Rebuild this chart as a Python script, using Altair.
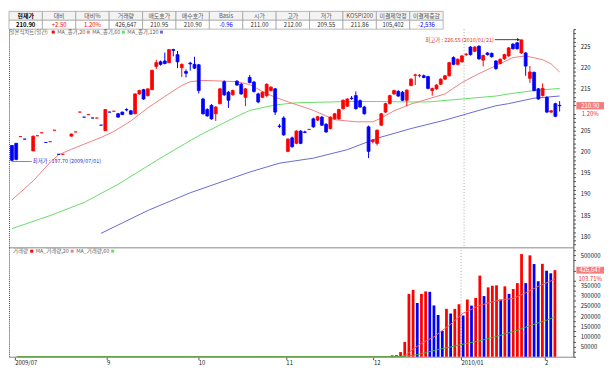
import altair as alt
import pandas as pd

# ---------------- data ----------------
headers = ["현재가", "대비", "대비%", "거래량", "매도호가", "매수호가", "Basis", "시가", "고가",
           "저가", "KOSPI200", "미결제약정", "미결제증감"]
values = ["210.90", "+2.50", "1.20%", "426,647", "210.95", "210.90", "-0.96", "211.00", "212.00",
          "209.55", "211.86", "105,402", "-2,536"]

opens = [201.5, 202.0, 203.6, 203.0, None, 200.2, 203.8, 204.5, 202.2, 202.4,
         205.1, 199.4, 199.4, None, 203.7, 204.7, 209.4, 208.2, 208.8, 208.0,
         208.0, 206.3, 205.0, 209.4, 209.6, 209.0, 209.4, 210.0, 209.7, 209.0,
         213.7, 214.7, 213.3, 214.7, 220.2, 221.3, 221.5, 221.1, 224.2, 223.0,
         219.9, 219.0, 221.0, 220.7, 220.6, 212.5, 210.0, 211.0, 209.0, 211.4,
         216.6, 214.1, 213.5, 216.7, 216.0, 212.9, 217.6, 216.5, 213.7, 212.9,
         213.3, 214.5, 214.9, 206.1, 208.0, 200.1, 203.3, 202.0, 204.9, 204.7,
         205.3, 207.8, 207.5, 208.2, 206.5, 205.5, 207.8, 207.8, 210.2, 210.8,
         212.7, 213.3, 212.1, 210.6, 205.9, 202.4, 202.0, 206.3, 209.4, 211.4,
         213.7, 214.3, 214.1, 212.2, 215.7, 218.1, 218.0, 218.0, 217.8, 214.5,
         214.9, 216.0, 217.2, 218.0, 222.3, 220.7, 221.3, 223.0, 224.8, 223.8,
         225.0, 221.7, 223.4, 223.3, 221.5, 220.9, 222.0, 222.7, 225.5, 225.8,
         223.4, 223.4, 217.4, 218.8, 214.9, 213.3, 212.9, 209.4, 211.4, 211.0]
highs = [201.6, 202.1, 203.6, 203.0, None, 203.8, 203.8, 204.5, 202.2, 202.4,
         205.1, 199.4, 199.4, None, 204.3, 204.7, 209.4, 208.2, 208.8, 208.0,
         208.0, 206.3, 210.1, 209.4, 209.6, 209.2, 209.5, 210.3, 209.9, 213.8,
         214.7, 214.9, 215.0, 219.4, 221.8, 221.6, 223.5, 224.3, 224.4, 223.9,
         220.9, 219.5, 221.3, 222.5, 220.8, 212.8, 210.3, 211.3, 210.8, 215.1,
         216.9, 214.4, 214.7, 217.0, 216.3, 215.1, 218.2, 216.8, 214.0, 214.3,
         216.2, 215.5, 215.1, 206.6, 208.4, 203.2, 203.6, 205.1, 205.1, 205.0,
         205.3, 208.1, 208.5, 208.5, 206.8, 208.4, 209.2, 210.2, 212.4, 212.7,
         213.2, 214.3, 212.4, 210.9, 206.2, 203.0, 205.3, 209.2, 211.6, 213.5,
         214.7, 214.6, 214.4, 214.8, 217.4, 218.5, 218.4, 218.3, 218.0, 215.2,
         216.0, 217.4, 218.2, 221.3, 222.6, 222.1, 222.9, 223.4, 225.0, 225.0,
         225.2, 223.0, 223.6, 223.5, 221.7, 222.1, 223.2, 224.8, 225.7, 226.0,
         226.55, 223.6, 220.3, 219.0, 215.1, 216.2, 213.1, 209.9, 211.6, 212.0]
lows = [197.7, 198.0, 203.6, 203.0, None, 200.2, 203.8, 204.5, 202.2, 202.4,
        205.1, 199.4, 199.4, None, 203.6, 204.7, 209.4, 208.2, 208.8, 208.0,
        208.0, 206.3, 204.9, 209.4, 209.6, 208.1, 208.7, 209.6, 208.8, 208.9,
        213.5, 212.3, 213.1, 214.6, 219.6, 220.4, 220.7, 221.0, 222.6, 219.8,
        217.7, 217.6, 219.2, 219.6, 213.8, 208.8, 208.3, 207.6, 207.3, 211.2,
        213.2, 210.4, 213.3, 215.6, 213.5, 210.8, 216.2, 214.0, 211.5, 212.7,
        213.0, 214.3, 208.7, 205.6, 203.8, 199.9, 201.0, 201.8, 201.8, 204.4,
        205.3, 205.7, 207.3, 206.1, 204.5, 205.3, 207.6, 207.6, 210.0, 210.6,
        212.3, 210.0, 210.4, 208.8, 198.5, 202.0, 201.5, 206.1, 209.2, 211.2,
        213.5, 213.0, 212.0, 210.8, 215.5, 215.8, 217.6, 217.4, 214.8, 213.3,
        214.7, 215.8, 217.0, 217.8, 220.5, 220.5, 221.1, 222.7, 222.8, 223.6,
        221.8, 220.2, 222.8, 222.3, 219.4, 220.7, 221.8, 222.5, 224.2, 224.2,
        223.2, 218.0, 216.3, 214.3, 212.3, 213.1, 209.2, 209.2, 208.2, 209.55]
closes = [198.0, 198.2, 203.6, 203.0, None, 203.7, 203.8, 204.5, 202.2, 202.4,
          205.1, 199.4, 199.4, None, 204.2, 204.7, 209.4, 208.2, 208.8, 208.0,
          208.0, 206.3, 210.0, 209.4, 209.6, 208.2, 208.8, 209.9, 208.9, 213.7,
          214.5, 212.5, 214.9, 219.3, 221.1, 220.7, 220.9, 224.2, 224.0, 221.3,
          220.7, 218.6, 220.8, 219.8, 214.5, 209.0, 208.5, 207.8, 210.6, 214.9,
          213.5, 212.2, 214.5, 215.8, 213.7, 214.9, 216.4, 214.3, 211.8, 214.1,
          216.0, 215.3, 209.4, 206.0, 204.0, 203.0, 201.2, 204.9, 202.0, 204.6,
          205.3, 205.9, 208.3, 206.3, 204.7, 208.2, 209.0, 210.0, 212.2, 212.5,
          212.6, 210.2, 210.6, 209.0, 200.1, 202.8, 205.1, 209.0, 211.4, 213.3,
          214.5, 213.2, 212.2, 214.6, 217.2, 218.2, 218.1, 217.6, 215.0, 215.0,
          215.8, 217.2, 218.0, 221.1, 220.7, 221.9, 222.7, 223.1, 223.0, 224.8,
          222.0, 222.8, 223.0, 222.5, 219.7, 221.9, 223.0, 224.6, 224.4, 224.4,
          226.5, 220.3, 218.9, 214.5, 212.5, 215.0, 209.4, 209.7, 208.4, 210.9]

vol_start = 90
volumes = [7000, 7000, 23000, 73000, 310000, 330000, 265000, 310000, 322000, 320000,
           253000, 206000, 127000, 236000, 213000, 236000, 259000, 203000, 282000, 252000,
           290000, 400000, 299000, 342000, 350000, 352000, 282000, 347000, 310000, 334000,
           363000, 506000, 363000, 500000, 457000, 372000, 458000, 424000, 411383, 426647]

ma20_idx = [0, 5, 9, 11, 14, 21, 24, 28, 32, 36, 40, 42, 45, 48, 53, 56, 59, 62, 66, 71,
            76, 81, 85, 87, 90, 94, 98, 102, 106, 110, 114, 118, 121, 125, 127, 129]
ma20_val = [188.6, 193.1, 197.5, 199.3, 200.6, 203.4, 204.8, 207.3, 210.4, 213.1,
            215.7, 216.6, 216.9, 216.8, 216.6, 215.9, 214.3, 212.9, 211.5, 209.8,
            207.6, 207.1, 207.1, 208.0, 209.7, 211.3, 212.5, 213.7, 216.4, 218.5,
            220.4, 222.3, 222.7, 221.8, 220.8, 218.9]
ma60_idx = [0, 9, 17, 25, 30, 34, 38, 44, 52, 56, 62, 67, 79, 86, 94, 98, 106, 114, 117, 123, 129]
ma60_val = [181.8, 184.9, 188.0, 192.3, 195.4, 197.9, 200.3, 203.8, 207.9, 209.8, 211.1,
            211.6, 211.9, 211.9, 211.8, 211.8, 212.5, 213.2, 213.7, 214.5, 215.0]
ma120_idx = [21, 32, 42, 56, 63, 71, 79, 86, 94, 102, 110, 114, 117, 123, 129]
ma120_val = [180.7, 186.1, 190.3, 195.2, 197.3, 198.5, 200.5, 203.2, 205.5, 207.5,
             209.8, 210.9, 211.4, 212.7, 213.2]

vma20_idx = [0, 90, 92, 93, 94, 95, 97, 100, 104, 107, 111, 115, 119, 122, 125, 129]
vma20_val = [0, 400, 1500, 5000, 20000, 37000, 66000, 98000, 160000, 215000, 253000,
             276000, 288000, 315000, 347000, 382000]
vma60_idx = [0, 92, 96, 100, 104, 107, 111, 115, 119, 123, 127, 129]
vma60_val = [0, 0, 10000, 31000, 48000, 62000, 79000, 100000, 124000, 153000, 180000, 196000]

month_labels = ["2009/07", "9", "10", "11", "12", "2010/01", "2"]
month_first_idx = [0, 22, 44, 65, 86, 107, 127]

hi_date = "2010/01/21"
lo_date = "2009/07/01"

price_legend = ["일본식차트(일간)", "MA_종가,20", "MA_종가,60", "MA_종가,120"]
vol_legend = ["거래량", "MA_거래량,20", "MA_거래량,60"]

# ---------------- style ----------------
FONT = "Noto Sans CJK KR"
RED = "#ff0000"
BLUE = "#0000ff"
MA20_C = "#f08080"
MA60_C = "#66dd66"
MA120_C = "#6a6ad0"
BOX_C = "#f47c7c"
W = 572
TH = 18
PH = 221
VH = 111

XS = alt.Scale(domain=[-0.697, 132.25], nice=False, zero=False)
PY = alt.Scale(domain=[177.41, 229.04], nice=False, zero=False)
VY = alt.Scale(domain=[0, 540000], nice=False, zero=False)
DIR = alt.Scale(domain=["up", "down"], range=[RED, BLUE])

# ---------------- frames ----------------
rows = []
prev = None
for i, (o, h, l, c) in enumerate(zip(opens, highs, lows, closes)):
    if o is None:
        continue
    if c > o:
        d = "up"
    elif c < o:
        d = "down"
    else:
        d = "up" if (prev is None or c >= prev) else "down"
    rows.append(dict(idx=i, o=o, h=h, l=l, c=c, d=d))
    prev = c
candles = pd.DataFrame(rows)

vrows = []
pv = 0
for k, v in enumerate(volumes):
    vrows.append(dict(idx=vol_start + k, v=v, d="up" if v > pv else "down"))
    pv = v
vol_df = pd.DataFrame(vrows)


def line_df(ix, vals):
    return pd.DataFrame({"idx": ix, "v": vals})


year_idx = month_first_idx[5] - 0.5
year_df = pd.DataFrame({"idx": [year_idx]})

hi_i = max(range(len(highs)), key=lambda i: highs[i] if highs[i] is not None else -1)
lo_i = min(range(len(lows)), key=lambda i: lows[i] if lows[i] is not None else 1e9)
hi_df = pd.DataFrame({"idx": [hi_i], "p": [highs[hi_i]],
                      "lab": [f"최고가 : {highs[hi_i]:.2f} ({hi_date})"]})
lo_df = pd.DataFrame({"idx": [lo_i], "p": [lows[lo_i]],
                      "lab": [f"최저가 : {lows[lo_i]:.2f} ({lo_date})"]})

last_c, prev_c = closes[-1], closes[-2]
cur_df = pd.DataFrame({"p": [last_c], "lab": [f"{last_c:.2f}"],
                       "pct": [f"{(last_c - prev_c) / prev_c * 100:.2f}%"]})
vcur_df = pd.DataFrame({"v": [volumes[-1]], "lab": [f"{volumes[-1]:,}"],
                        "pct": [f"{volumes[-1] / volumes[-2] * 100:.2f}%"]})

dummy = pd.DataFrame({"k": [0]})


def est_w(s, fs):
    w = 0.0
    for ch in s:
        if ord(ch) > 0x2E80:
            w += 1.0
        elif ch in ",.():":
            w += 0.3
        elif ch == "_":
            w += 0.5
        elif ch.isupper():
            w += 0.68
        else:
            w += 0.56
    return w * fs


def legend_layers(labels, colors, x0, y, fs):
    out = []
    x = x0
    for lab, col in zip(labels, colors):
        out.append(alt.Chart(dummy).mark_text(align="left", baseline="middle", fontSize=fs,
                                              color="#666666", font=FONT)
                   .encode(x=alt.value(x), y=alt.value(y), text=alt.value(lab)))
        x += est_w(lab, fs) + 2.5
        out.append(alt.Chart(dummy).mark_square(size=9, color=col, opacity=1, filled=True)
                   .encode(x=alt.value(x), y=alt.value(y)))
        x += 4
    return out


# ---------------- table ----------------
def val_kind(h, s):
    if h == "현재가":
        return "bold"
    if s.startswith("-"):
        return "blue"
    if h in ("대비", "대비%"):
        return "red"
    return "norm"


tbl = pd.DataFrame({
    "col": headers + headers,
    "row": ["h"] * len(headers) + ["v"] * len(values),
    "text": headers + values,
    "kind": ["bold" if h == "현재가" else "head" for h in headers]
            + [val_kind(h, s) for h, s in zip(headers, values)],
})
TX = alt.X("col:N", sort=headers, scale=alt.Scale(paddingInner=0, paddingOuter=0), axis=None)
TY = alt.Y("row:N", sort=["h", "v"], scale=alt.Scale(paddingInner=0, paddingOuter=0), axis=None)
cells = alt.Chart(tbl).mark_rect(stroke="#9a9a9a", strokeWidth=0.7).encode(
    x=TX, y=TY,
    fill=alt.Fill("row:N", scale=alt.Scale(domain=["h", "v"], range=["#f3f3f3", "#ffffff"]),
                  legend=None))
tcol = alt.Scale(domain=["bold", "head", "norm", "red", "blue"],
                 range=["#000000", "#555555", "#333333", "#ff0000", "#0000ff"])
ttext = alt.Chart(tbl).transform_filter("datum.kind != 'bold'").mark_text(
    fontSize=6, font=FONT, baseline="middle").encode(
    x=TX, y=TY, text="text:N", color=alt.Color("kind:N", scale=tcol, legend=None))
tbold = alt.Chart(tbl).transform_filter("datum.kind == 'bold'").mark_text(
    fontSize=6, font=FONT, fontWeight="bold", baseline="middle").encode(
    x=TX, y=TY, text="text:N", color=alt.Color("kind:N", scale=tcol, legend=None))
table = alt.layer(cells, ttext, tbold).properties(width=440, height=TH)

# ---------------- price panel ----------------
price_vals = [v for v in range(178, 230) if v != 210]
yr = alt.Chart(year_df).mark_rule(strokeDash=[1, 2], color="#a8a8a8", strokeWidth=1).encode(
    x=alt.X("idx:Q", scale=XS,
            axis=alt.Axis(orient="bottom", labels=False, ticks=False, grid=False, title=None,
                          domainColor="#b0b0b0", domainWidth=1.5)))

wick = alt.Chart(candles).mark_rule(strokeWidth=1).encode(
    x=alt.X("idx:Q", scale=XS, axis=None),
    y=alt.Y("l:Q", scale=PY,
            axis=alt.Axis(orient="right", values=price_vals, title=None, grid=False,
                          labelExpr="datum.value % 5 == 0 ? datum.label : ''",
                          tickSize=2, tickColor="#444", domainColor="#444", labelPadding=5,
                          labelFontSize=6, labelColor="#222", labelFont=FONT)),
    y2="h:Q",
    color=alt.Color("d:N", scale=DIR, legend=None))

body = alt.Chart(candles).transform_calculate(
    x1="datum.idx - 0.34", x2="datum.idx + 0.34").mark_rect(strokeWidth=0.8).encode(
    x=alt.X("x1:Q", scale=XS, axis=None), x2="x2:Q",
    y=alt.Y("o:Q", scale=PY,
            axis=alt.Axis(orient="left", labels=False, ticks=False, grid=False, title=None,
                          domainDash=[1, 1], domainColor="#444")),
    y2="c:Q",
    color=alt.Color("d:N", scale=DIR, legend=None),
    stroke=alt.Stroke("d:N", scale=DIR, legend=None))


def ma_line(ix, vals, col, ys):
    return alt.Chart(line_df(ix, vals)).mark_line(strokeWidth=1, color=col).encode(
        x=alt.X("idx:Q", scale=XS, axis=None), y=alt.Y("v:Q", scale=ys, axis=None))


ma20 = ma_line(ma20_idx, ma20_val, MA20_C, PY)
ma60 = ma_line(ma60_idx, ma60_val, MA60_C, PY)
ma120 = ma_line(ma120_idx, ma120_val, MA120_C, PY)

hx = alt.X("idx:Q", scale=XS, axis=None)
hy = alt.Y("p:Q", scale=PY, axis=None)
hi_rule = alt.Chart(hi_df).mark_rule(color="#444444", strokeWidth=1, xOffset=-27, x2Offset=-2).encode(
    x=hx, x2="idx:Q", y=hy)
hi_head = alt.Chart(hi_df).mark_point(shape="triangle-right", filled=True, size=10, color="#222222",
                                      opacity=1, xOffset=-3).encode(x=hx, y=hy)
hi_text = alt.Chart(hi_df).mark_text(align="right", baseline="middle", fontSize=5.5, font=FONT,
                                     color="#e03030", dx=-28).encode(x=hx, y=hy, text="lab:N")
lo_rule = alt.Chart(lo_df).mark_rule(color="#888888", strokeWidth=1, xOffset=0, x2Offset=20).encode(
    x=hx, x2="idx:Q", y=hy)
lo_text = alt.Chart(lo_df).mark_text(align="left", baseline="middle", fontSize=5.5, font=FONT,
                                     color="#3030c0", dx=21).encode(x=hx, y=hy, text="lab:N")

cur_box = alt.Chart(cur_df).mark_rect(color=BOX_C, yOffset=-3.7, y2Offset=3.7).encode(
    x=alt.value(575), x2=alt.value(603), y=hy, y2="p:Q")
cur_txt = alt.Chart(cur_df).mark_text(color="white", fontSize=6, font=FONT, baseline="middle").encode(
    x=alt.value(589), y=hy, text="lab:N")
cur_pct = alt.Chart(cur_df).mark_text(color="#e03030", fontSize=6, font=FONT, baseline="middle",
                                      dy=8.5).encode(x=alt.value(589), y=hy, text="pct:N")

price = alt.layer(
    yr, ma120, ma60, ma20, wick, body, hi_rule, hi_head, hi_text, lo_rule, lo_text,
    cur_box, cur_txt, cur_pct,
    *legend_layers(price_legend, [RED, MA20_C, MA60_C, MA120_C], 0.5, 3, 5.5)
).resolve_axis(x="independent", y="independent").properties(width=W, height=PH)

# ---------------- volume panel ----------------
tick_vals = [i - 0.5 for i in month_first_idx]
lab_expr = "".join(f"datum.value == {t} ? '{s}' : " for t, s in zip(tick_vals, month_labels)) + "''"
vol_vals = [v for v in range(0, 540001, 25000) if v not in (400000, 450000)]

yr2 = alt.Chart(year_df).mark_rule(strokeDash=[1, 2], color="#a8a8a8", strokeWidth=1).encode(
    x=alt.X("idx:Q", scale=XS, axis=None))
bars = alt.Chart(vol_df).mark_bar(size=2.8).encode(
    x=alt.X("idx:Q", scale=XS,
            axis=alt.Axis(orient="bottom", values=tick_vals, labelExpr=lab_expr, title=None,
                          grid=False, tickSize=3, tickColor="#555", domainColor="#888",
                          labelAlign="left", labelPadding=0, labelFontSize=6,
                          labelColor="#222", labelFont=FONT, labelFlush=False,
                          labelOverlap=False)),
    y=alt.Y("v:Q", scale=VY,
            axis=alt.Axis(orient="right", values=vol_vals, title=None, grid=False,
                          labelExpr="datum.value % 50000 == 0 && datum.value > 0 ? datum.value : ''",
                          tickSize=2, tickColor="#444", domainColor="#444", labelPadding=5,
                          labelFontSize=6, labelColor="#222", labelFont=FONT)),
    color=alt.Color("d:N", scale=DIR, legend=None))
vma20 = ma_line(vma20_idx, vma20_val, "#ff5a5a", VY)
vma60 = alt.Chart(line_df(vma60_idx, vma60_val)).mark_line(strokeWidth=1, color="#3cb43c").encode(
    x=alt.X("idx:Q", scale=XS, axis=None),
    y=alt.Y("v:Q", scale=VY,
            axis=alt.Axis(orient="left", labels=False, ticks=False, grid=False, title=None,
                          domainDash=[1, 1], domainColor="#444")))
vy = alt.Y("v:Q", scale=VY, axis=None)
vcur_box = alt.Chart(vcur_df).mark_rect(color=BOX_C, yOffset=-3.5, y2Offset=3.5).encode(
    x=alt.value(575), x2=alt.value(603), y=vy, y2="v:Q")
vcur_txt = alt.Chart(vcur_df).mark_text(color="white", fontSize=6, font=FONT, baseline="middle").encode(
    x=alt.value(589), y=vy, text="lab:N")
vcur_pct = alt.Chart(vcur_df).mark_text(color="#e03030", fontSize=6, font=FONT, baseline="middle",
                                        dy=8.5).encode(x=alt.value(589), y=vy, text="pct:N")

volume = alt.layer(
    yr2, bars, vma20, vma60, vcur_box, vcur_txt, vcur_pct,
    *legend_layers(vol_legend, [RED, MA20_C, MA60_C], 4, 4, 5.5)
).resolve_axis(x="independent", y="independent").properties(width=W, height=VH)

chart = alt.vconcat(table, price, volume, spacing=0, bounds="flush").resolve_scale(
    color="independent", fill="independent", stroke="independent"
).properties(padding=0).configure(font=FONT).configure_view(stroke=None)

chart.save("out.html", embed_options={"renderer": "svg", "actions": False})
